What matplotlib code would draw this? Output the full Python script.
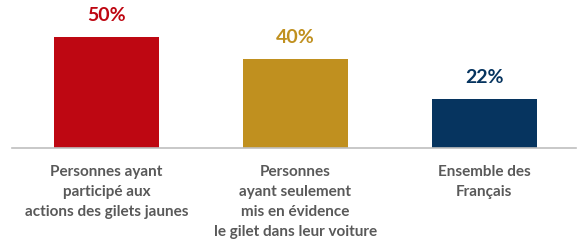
import matplotlib.pyplot as plt

categories = ["Personnes ayant\nparticipé aux\nactions des gilets jaunes",
              "Personnes\nayant seulement\nmis en évidence\nle gilet dans leur voiture",
              "Ensemble des\nFrançais"]
values = [50, 40, 22]
colors = ["#BE0712", "#C0901F", "#06345F"]

plt.rcParams['font.family'] = ['Lato', 'DejaVu Sans']

fig = plt.figure(figsize=(5.81, 2.41), dpi=100)
ax = fig.add_axes([12/581, 93/241, 564/581, 133/241])

x = range(len(values))
ax.bar(x, values, width=0.555, color=colors)
for i, v in enumerate(values):
    ax.text(i, v + 6, f"{v}%", ha='center', va='bottom', color=colors[i],
            fontsize=14, fontweight='bold')

ax.set_xlim(-0.5, 2.485)
ax.set_ylim(0, 60)
for s in ['top', 'right', 'left']:
    ax.spines[s].set_visible(False)
ax.spines['bottom'].set_color('#BFBFBF')
ax.spines['bottom'].set_linewidth(1.2)
ax.set_yticks([])
ax.set_xticks(list(x))
ax.set_xticklabels(categories, fontsize=11, fontweight='bold', color='#595959',
                   linespacing=1.55)
ax.tick_params(axis='x', length=0, pad=12)

fig.savefig("out.png", dpi=100)
